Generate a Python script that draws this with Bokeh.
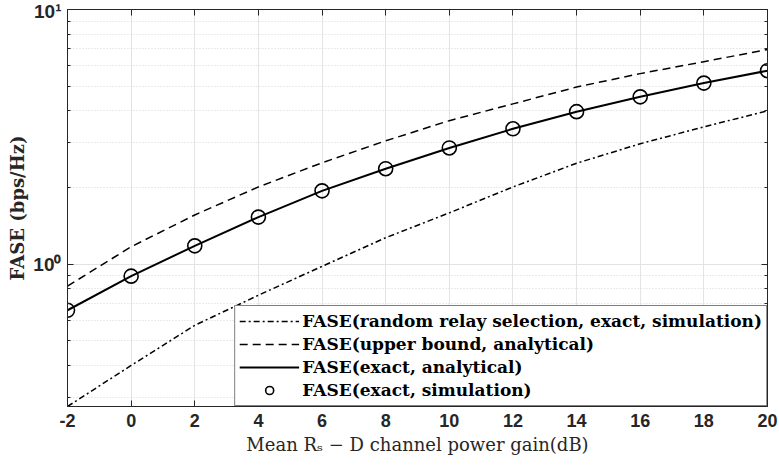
from bokeh.plotting import figure
from bokeh.models import FixedTicker, LinearAxis, LogAxis, Legend, LegendItem
from bokeh.embed import file_html
from bokeh.resources import INLINE

# ---- data ----
gain_db = [-2, 0, 2, 4, 6, 8, 10, 12, 14, 16, 18, 20]
fase_random_sim = [0.276, 0.40, 0.575, 0.755, 0.98, 1.27, 1.59, 2.01, 2.49, 2.97, 3.46, 4.00]
fase_upper_bound = [0.82, 1.17, 1.56, 2.01, 2.50, 3.05, 3.66, 4.26, 4.96, 5.60, 6.24, 6.96]
fase_exact_analytical = [0.659, 0.897, 1.18, 1.53, 1.94, 2.37, 2.86, 3.40, 3.97, 4.54, 5.14, 5.75]
fase_exact_sim = [0.659, 0.897, 1.18, 1.53, 1.94, 2.37, 2.86, 3.40, 3.97, 4.54, 5.14, 5.75]

x_ticks = [-2, 0, 2, 4, 6, 8, 10, 12, 14, 16, 18, 20]
x_labels = {t: str(t) for t in x_ticks}
y_major = [1, 10]
y_minor = [0.3, 0.4, 0.5, 0.6, 0.7, 0.8, 0.9, 2, 3, 4, 5, 6, 7, 8, 9]
y_labels = {1: "10\u2070", 10: "10\u00b9"}

labels = [
    "FASE(random relay selection, exact, simulation)",
    "FASE(upper bound, analytical)",
    "FASE(exact, analytical)",
    "FASE(exact, simulation)",
]

p = figure(width=779, height=468, y_axis_type="log",
           x_range=(-2, 20), y_range=(0.276, 10),
           output_backend="svg", toolbar_location=None,
           min_border_left=67, min_border_right=12,
           min_border_top=9, min_border_bottom=62)
p.background_fill_color = "white"
p.border_fill_color = "white"
p.outline_line_color = "#262626"
p.outline_line_width = 1

# grids
p.xgrid.ticker = FixedTicker(ticks=x_ticks)
p.xgrid.grid_line_color = "#e3e3e3"
p.ygrid.ticker = FixedTicker(ticks=y_major, minor_ticks=y_minor)
p.ygrid.grid_line_color = "#e3e3e3"
p.ygrid.minor_grid_line_color = "#d6d6d6"
p.ygrid.minor_grid_line_dash = "1 2"

# main axes
ax = p.xaxis[0]
ax.ticker = FixedTicker(ticks=x_ticks)
ax.major_label_overrides = x_labels
ax.axis_label = "Mean R\u209b \u2212 D channel power gain(dB)"
ax.axis_label_text_font = "DejaVu Serif"
ax.axis_label_text_font_style = "normal"
ax.axis_label_text_font_size = "18px"
ax.axis_label_standoff = 4
ax.major_label_text_font = "Liberation Sans"
ax.major_label_text_font_style = "bold"
ax.major_label_text_font_size = "18px"
ax.major_label_standoff = 7

ay = p.yaxis[0]
ay.ticker = FixedTicker(ticks=y_major, minor_ticks=y_minor)
ay.major_label_overrides = y_labels
ay.axis_label = "FASE (bps/Hz)"
ay.axis_label_text_font = "DejaVu Serif"
ay.axis_label_text_font_style = "bold"
ay.axis_label_text_font_size = "18px"
ay.axis_label_standoff = 2
ay.major_label_text_font = "Liberation Sans"
ay.major_label_text_font_style = "bold"
ay.major_label_text_font_size = "19px"
ay.major_label_standoff = 6

for a in (ax, ay):
    a.axis_line_color = "#262626"
    a.major_tick_line_color = "#262626"
    a.minor_tick_line_color = "#262626"
    a.major_tick_in = 6
    a.major_tick_out = 0
    a.minor_tick_in = 3
    a.minor_tick_out = 0
    a.major_label_text_color = "#262626"
    a.axis_label_text_color = "#262626"
ax.minor_tick_line_color = None

# box axes (top / right) without labels
top = LinearAxis(ticker=FixedTicker(ticks=x_ticks), major_label_text_font_size="1px",
                 major_label_text_color=None,
                 major_label_standoff=0, major_tick_in=6, major_tick_out=0,
                 minor_tick_line_color=None, axis_line_color="#262626",
                 major_tick_line_color="#262626")
right = LogAxis(ticker=FixedTicker(ticks=y_major, minor_ticks=y_minor),
                major_label_text_font_size="1px", major_label_text_color=None,
                major_label_standoff=0,
                major_tick_in=6, major_tick_out=0, minor_tick_in=3, minor_tick_out=0,
                axis_line_color="#262626", major_tick_line_color="#262626",
                minor_tick_line_color="#262626")
p.add_layout(top, "above")
p.add_layout(right, "right")

# series
r1 = p.line(gain_db, fase_random_sim, line_color="black", line_width=1.5, line_dash="6 3 2 3")
r2 = p.line(gain_db, fase_upper_bound, line_color="black", line_width=1.5, line_dash="8 5")
r3 = p.line(gain_db, fase_exact_analytical, line_color="black", line_width=2)
r4 = p.scatter(gain_db, fase_exact_sim, marker="circle", size=14, fill_color=None,
               line_color="black", line_width=1.6)

legend = Legend(items=[LegendItem(label=labels[0], renderers=[r1]),
                       LegendItem(label=labels[1], renderers=[r2]),
                       LegendItem(label=labels[2], renderers=[r3]),
                       LegendItem(label=labels[3], renderers=[r4])],
                location="bottom_right", margin=0, padding=4, spacing=1,
                glyph_width=60, glyph_height=20, label_standoff=3, label_height=22,
                label_text_font="DejaVu Serif", label_text_font_style="bold",
                label_text_font_size="17px", label_text_color="black",
                border_line_color="black", border_line_width=1,
                background_fill_color="white", background_fill_alpha=1)
p.add_layout(legend)

open("out.html", "w").write(file_html(p, INLINE))
